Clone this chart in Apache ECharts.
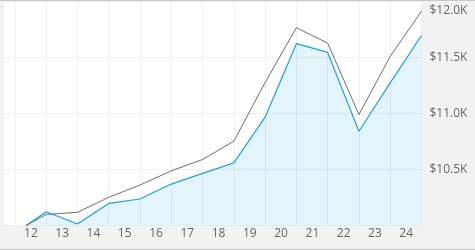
<!DOCTYPE html>
<html>
<head>
<meta charset="utf-8">
<script src="https://cdn.jsdelivr.net/npm/echarts@6/dist/echarts.min.js"></script>
<style>
html,body{margin:0;padding:0;background:#f2f2f2;}
#chart{width:475px;height:250px;}
</style>
</head>
<body>
<div id="chart"></div>
<script>
// Year tick labels (centred within each year band)
const yearLabels = ['12','13','14','15','16','17','18','19','20','21','22','23','24'];
const firstYear = 2012;
// Observation dates as fractional years (inception, then year ends)
const dates = [2012.36, 2013, 2014, 2015, 2016, 2017, 2018, 2019, 2020, 2021, 2022, 2023, 2024, 2025];
// Growth of $10K – fund (blue, filled)
const fundValues = [10000, 10123, 10013, 10197, 10236, 10369, 10464, 10558, 10965, 11620, 11542, 10840, 11271, 11693];
// Growth of $10K – benchmark (gray line)
const benchValues = [10000, 10099, 10117, 10251, 10360, 10487, 10588, 10751, 11274, 11762, 11625, 10988, 11507, 11909];
// Y axis ticks
const yMin = 10000, yMax = 12000, yStep = 500;

const chart = echarts.init(document.getElementById('chart'), null, {renderer: 'canvas'});
const font = '"Open Sans", "Noto Sans", sans-serif';

chart.setOption({
  animation: false,
  backgroundColor: '#f2f2f2',
  grid: {left: 0, right: 53.5, top: 1, bottom: 24.5, show: true, backgroundColor: '#ffffff', borderWidth: 0},
  xAxis: {
    type: 'value',
    min: 2011.62, max: 2025,
    minInterval: 1, maxInterval: 1,
    axisLine: {show: false},
    axisTick: {show: false},
    splitLine: {show: true, lineStyle: {color: '#f0f0f0', width: 1}},
    axisLabel: {
      color: '#666', fontFamily: font, fontSize: 12, margin: 2,
      padding: [0, 0, 0, 32],
      formatter: function (v) {
        const i = Math.round(v) - firstYear;
        if (Math.abs(v - Math.round(v)) > 1e-6 || i < 0 || i >= yearLabels.length) return '';
        return yearLabels[i];
      }
    }
  },
  yAxis: {
    type: 'value', position: 'right',
    min: yMin, max: yMax, interval: yStep,
    axisLine: {show: false},
    axisTick: {show: false},
    splitLine: {show: true, lineStyle: {color: '#f0f0f0', width: 1}},
    axisLabel: {
      color: '#666', fontFamily: font, fontSize: 12, margin: 8,
      formatter: function (v) {
        if (v <= yMin) return '';
        const s = '$' + (v / 1000).toFixed(1) + 'K';
        return v >= yMax ? '{t|' + s + '}' : s;
      },
      rich: {t: {color: '#666', fontFamily: font, fontSize: 12, padding: [20, 0, 0, 0]}}
    }
  },
  series: [
    {
      type: 'line',
      data: dates.map((d, i) => [d, fundValues[i]]),
      symbol: 'none',
      lineStyle: {color: '#1ba1e2', width: 1.2},
      areaStyle: {color: 'rgba(27,161,226,0.17)', origin: 'start'},
      z: 2
    },
    {
      type: 'line',
      data: dates.map((d, i) => [d, benchValues[i]]),
      symbol: 'none',
      lineStyle: {color: '#6e6e6e', width: 1},
      z: 3
    }
  ],
  graphic: [
    {type: 'rect', shape: {x: 0, y: 0, width: 475, height: 1}, style: {fill: '#c8c8c8'}, z: 100},
    {type: 'rect', shape: {x: 0, y: 249, width: 475, height: 1}, style: {fill: '#c8c8c8'}, z: 100}
  ]
});
</script>
</body>
</html>
